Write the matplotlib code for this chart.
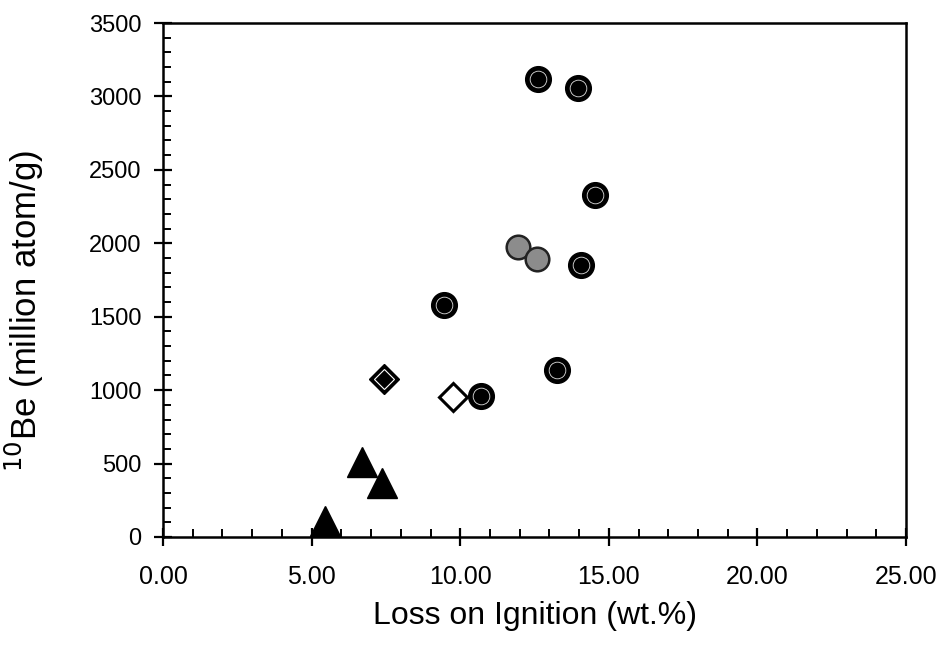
import matplotlib
matplotlib.use("Agg")
import matplotlib.pyplot as plt
from matplotlib.ticker import MultipleLocator, FormatStrFormatter

plt.rcParams['font.family'] = ['Liberation Sans', 'DejaVu Sans']

# black circles with white dashed ring
ringX = [9.45, 10.70, 12.62, 13.96, 14.54, 14.06, 13.26]
ringY = [1580, 960, 3119, 3057, 2329, 1852, 1137]

# grey circles
greyX = [11.94, 12.58]
greyY = [1975, 1893]

# diamond with black centre
fullDiamondX = [7.44]
fullDiamondY = [1075]

# open diamond
openDiamondX = [9.76]
openDiamondY = [950]

# triangles
triX = [5.45, 6.70, 7.37]
triY = [110, 511, 368]

fig = plt.figure(figsize=(9.43, 6.52), dpi=100)
ax = fig.add_axes([0.1729, 0.1764, 0.7879, 0.7883])

ax.plot(triX, triY, '^', color='black', markersize=22, clip_on=False, zorder=3)
ax.plot(openDiamondX, openDiamondY, 'D', markerfacecolor='white',
        markeredgecolor='black', markeredgewidth=2.2, markersize=14, zorder=3)
ax.plot(fullDiamondX, fullDiamondY, 'D', color='black', markersize=15, zorder=3)
ax.plot(fullDiamondX, fullDiamondY, 'D', markerfacecolor='black',
        markeredgecolor='white', markeredgewidth=0.8, markersize=10, zorder=4)
ax.plot(greyX, greyY, 'o', markerfacecolor='#8c8c8c', markeredgecolor='#222222',
        markeredgewidth=1.8, markersize=17, zorder=3)
ax.plot(ringX, ringY, 'o', color='black', markersize=18.5, zorder=3)
ax.plot(ringX, ringY, 'o', markerfacecolor='black', markeredgecolor='#e0e0e0',
        markeredgewidth=0.6, markersize=12, zorder=4)

ax.set_xlim(0, 25)
ax.set_ylim(0, 3500)
ax.xaxis.set_major_locator(MultipleLocator(5))
ax.xaxis.set_minor_locator(MultipleLocator(1))
ax.yaxis.set_major_locator(MultipleLocator(500))
ax.yaxis.set_minor_locator(MultipleLocator(100))
ax.xaxis.set_major_formatter(FormatStrFormatter('%.2f'))

ax.tick_params(which='major', direction='inout', length=13, width=1.6, colors='black')
ax.tick_params(axis='x', which='major', labelsize=18, pad=14)
ax.tick_params(axis='y', which='major', labelsize=17, pad=9)
ax.tick_params(which='minor', direction='in', length=6, width=1.4)
ax.tick_params(top=False, right=False, which='both')

for side in ['left', 'bottom', 'top', 'right']:
    ax.spines[side].set_linewidth(1.8)

ax.set_xlabel("Loss on Ignition (wt.%)", fontsize=23, labelpad=8)
ax.set_ylabel("$^{10}$Be (million atom/g)", fontsize=25)
ax.yaxis.set_label_coords(-0.158, 0.44)

fig.savefig("out.png", dpi=100)
